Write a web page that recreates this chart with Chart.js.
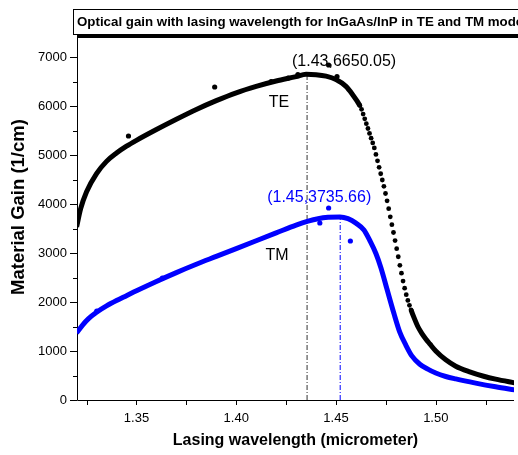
<!DOCTYPE html>
<html>
<head>
<meta charset="utf-8">
<script src="https://cdn.jsdelivr.net/npm/chart.js@4/dist/chart.umd.min.js"></script>
<style>
  html, body { margin: 0; padding: 0; background: #fff; }
  #wrap { width: 518px; height: 455px; }
</style>
</head>
<body>
<div id="wrap"><canvas id="chart" width="518" height="455"></canvas></div>
<script>
// values
const teWl = [1.320, 1.322, 1.325, 1.330, 1.335, 1.340, 1.345, 1.350, 1.360, 1.370, 1.380, 1.390, 1.400, 1.410, 1.420, 1.430, 1.435,
  1.440, 1.445, 1.450, 1.455, 1.458,
  1.4620, 1.4628, 1.4636, 1.4644, 1.4652, 1.4660, 1.4668, 1.4676, 1.4684, 1.4692, 1.4700, 1.4708, 1.4716, 1.4724, 1.4732, 1.4740, 1.4748,
  1.4756, 1.4764, 1.4772, 1.4780, 1.4788, 1.4796, 1.4804, 1.4812, 1.4820, 1.4828, 1.4836, 1.4844, 1.4852, 1.4860, 1.4868, 1.4876,
  1.489, 1.491, 1.493, 1.495, 1.497, 1.500, 1.505, 1.510, 1.517, 1.524, 1.530, 1.540];
const teGain = [3530, 3900, 4250, 4620, 4870, 5040, 5180, 5300, 5520, 5730, 5930, 6110, 6270, 6400, 6510, 6600, 6650,
  6640, 6610, 6540, 6400, 6250,
  6006, 5932, 5835, 5739, 5639, 5541, 5441, 5343, 5247, 5145, 5012, 4882, 4749, 4618, 4490, 4361, 4214,
  4065, 3904, 3739, 3578, 3418, 3253, 3088, 2924, 2749, 2588, 2427, 2282, 2149, 2033, 1933, 1841,
  1690, 1500, 1360, 1245, 1145, 1000, 820, 690, 575, 485, 425, 345];

const tmWl = [1.320, 1.323, 1.326, 1.330, 1.335, 1.340, 1.345, 1.350, 1.360, 1.370, 1.380, 1.390, 1.400, 1.410, 1.420, 1.430,
  1.436, 1.441, 1.446, 1.452, 1.456, 1.460, 1.464, 1.467, 1.470, 1.4725, 1.4755, 1.479, 1.482, 1.485, 1.488, 1.492,
  1.496, 1.500, 1.505, 1.510, 1.520, 1.530, 1.540];
const tmGain = [1367, 1530, 1660, 1790, 1920, 2030, 2130, 2230, 2420, 2600, 2770, 2930, 3090, 3250, 3410, 3570,
  3650, 3700, 3728, 3736, 3700, 3610, 3470, 3250, 2990, 2700, 2270, 1770, 1380, 1120, 900, 730,
  630, 550, 480, 430, 345, 270, 205];

// stray points off the curves
const teExtraWl = [1.346, 1.3892, 1.4175, 1.426, 1.4309, 1.4463, 1.4505];
const teExtraGain = [5388, 6388, 6500, 6570, 6640, 6837, 6600];
const tmExtraWl = [1.3301, 1.363, 1.4419, 1.4463, 1.4572];
const tmExtraGain = [1816, 2490, 3612, 3918, 3245];

const tePeak = { x: 1.4355, y: 6650.05, label: "(1.43,6650.05)" };
const tmPeak = { x: 1.4521, y: 3735.66, label: "(1.45,3735.66)" };

const yTicks = [0, 1000, 2000, 3000, 4000, 5000, 6000, 7000];
const yMinor = [500, 1500, 2500, 3500, 4500, 5500, 6500];
const xTicks = [1.35, 1.40, 1.45, 1.50];
const xMinor = [1.325, 1.375, 1.425, 1.475, 1.525];

const titleText = "Optical gain with lasing wavelength for InGaAs/InP in TE and TM mode";
const xTitle = "Lasing wavelength (micrometer)";
const yTitle = "Material Gain (1/cm)";

// the steep part of TE shows single dots
const dotFrom = 1.4619, dotTo = 1.4877;

const pts = (xs, ys) => xs.map((x, i) => ({ x: x, y: ys[i] }));
const FONT = '"Liberation Sans", Arial, sans-serif';

const axesPlugin = {
  id: "axes",
  beforeDatasetsDraw(chart) {
    const { ctx, chartArea: a, scales: { x, y } } = chart;
    ctx.save();
    ctx.strokeStyle = "#000";
    ctx.lineWidth = 1;
    ctx.beginPath();
    ctx.moveTo(a.left + 0.5, a.top);
    ctx.lineTo(a.left + 0.5, a.bottom + 0.5);
    ctx.lineTo(a.right, a.bottom + 0.5);
    ctx.stroke();

    ctx.beginPath();
    yTicks.forEach(v => {
      const py = Math.round(y.getPixelForValue(v)) + 0.5;
      ctx.moveTo(a.left - 7, py); ctx.lineTo(a.left, py);
    });
    yMinor.forEach(v => {
      const py = Math.round(y.getPixelForValue(v)) + 0.5;
      ctx.moveTo(a.left - 4, py); ctx.lineTo(a.left, py);
    });
    xTicks.concat(xMinor).forEach(v => {
      const px = Math.round(x.getPixelForValue(v)) + 0.5;
      ctx.moveTo(px, a.bottom); ctx.lineTo(px, a.bottom + 5);
    });
    ctx.stroke();

    ctx.fillStyle = "#000";
    ctx.font = "13px " + FONT;
    ctx.textAlign = "right";
    ctx.textBaseline = "middle";
    yTicks.forEach(v => ctx.fillText(String(v), a.left - 10, y.getPixelForValue(v)));
    ctx.textAlign = "center";
    xTicks.forEach(v => ctx.fillText(v.toFixed(2), x.getPixelForValue(v), a.bottom + 18));

    ctx.font = "bold 16px " + FONT;
    ctx.fillText(xTitle, (a.left + a.right) / 2, 441);
    ctx.font = "bold 18.5px " + FONT;
    ctx.translate(19, 207);
    ctx.rotate(-Math.PI / 2);
    ctx.fillText(yTitle, 0, 0);
    ctx.restore();
  },
  afterDatasetsDraw(chart) {
    const { ctx, scales: { x, y } } = chart;
    ctx.save();
    ctx.font = "16px " + FONT;
    ctx.textAlign = "center";
    ctx.textBaseline = "middle";
    ctx.fillStyle = "#000";
    ctx.fillText(tePeak.label, x.getPixelForValue(tePeak.x) + 37, y.getPixelForValue(tePeak.y) - 13);
    ctx.fillText("TE", 279, 103);
    ctx.fillText("TM", 277, 256);
    ctx.fillStyle = "#0000ff";
    ctx.fillText(tmPeak.label, x.getPixelForValue(tmPeak.x) - 21, y.getPixelForValue(tmPeak.y) - 19);

    // title box with shadow
    ctx.fillStyle = "#000";
    ctx.fillRect(77, 34, 460, 4);
    ctx.fillStyle = "#fff";
    ctx.fillRect(73, 9, 460, 25);
    ctx.strokeStyle = "#000";
    ctx.lineWidth = 1;
    ctx.strokeRect(73.5, 9.5, 460, 25);
    ctx.fillStyle = "#000";
    ctx.font = "bold 13.3px " + FONT;
    ctx.textAlign = "left";
    ctx.fillText(titleText, 77, 22);
    ctx.restore();
  }
};

const inDots = v => v >= dotFrom && v <= dotTo;

new Chart(document.getElementById("chart"), {
  type: "line",
  data: {
    datasets: [
      {
        label: "TE",
        data: pts(teWl, teGain),
        borderColor: "#000",
        backgroundColor: "#000",
        borderWidth: 5,
        cubicInterpolationMode: "monotone",
        pointRadius: c => (c.raw && inDots(c.raw.x) ? 2.4 : 0),
        pointBorderWidth: 0,
        segment: {
          borderColor: c => (inDots(c.p0.parsed.x) && inDots(c.p1.parsed.x) ? "rgba(0,0,0,0)" : "#000")
        },
        order: 1
      },
      {
        label: "TM",
        data: pts(tmWl, tmGain),
        borderColor: "#0000ff",
        borderWidth: 5,
        cubicInterpolationMode: "monotone",
        pointRadius: 0,
        order: 2
      },
      {
        label: "TE extra",
        data: pts(teExtraWl, teExtraGain),
        showLine: false,
        pointRadius: 2.6,
        pointBorderWidth: 0,
        backgroundColor: "#000",
        order: 0
      },
      {
        label: "TM extra",
        data: pts(tmExtraWl, tmExtraGain),
        showLine: false,
        pointRadius: 2.6,
        pointBorderWidth: 0,
        backgroundColor: "#0000ff",
        order: 0
      },
      {
        label: "TE peak",
        data: [{ x: tePeak.x, y: 0 }, { x: tePeak.x, y: tePeak.y }],
        borderColor: "#333",
        borderWidth: 1,
        borderDash: [5, 2, 1, 2],
        pointRadius: 0,
        order: 5
      },
      {
        label: "TM peak",
        data: [{ x: tmPeak.x, y: 0 }, { x: tmPeak.x, y: tmPeak.y }],
        borderColor: "#0000ff",
        borderWidth: 1,
        borderDash: [5, 2, 1, 2],
        pointRadius: 0,
        order: 5
      }
    ]
  },
  options: {
    responsive: false,
    animation: false,
    layout: { padding: { left: 77, top: 38, right: 0, bottom: 55 } },
    scales: {
      x: { type: "linear", min: 1.3202, max: 1.5392, display: false },
      y: { type: "linear", min: 0, max: 7388, display: false }
    },
    plugins: {
      legend: { display: false },
      tooltip: { enabled: false }
    }
  },
  plugins: [axesPlugin]
});
</script>
</body>
</html>
